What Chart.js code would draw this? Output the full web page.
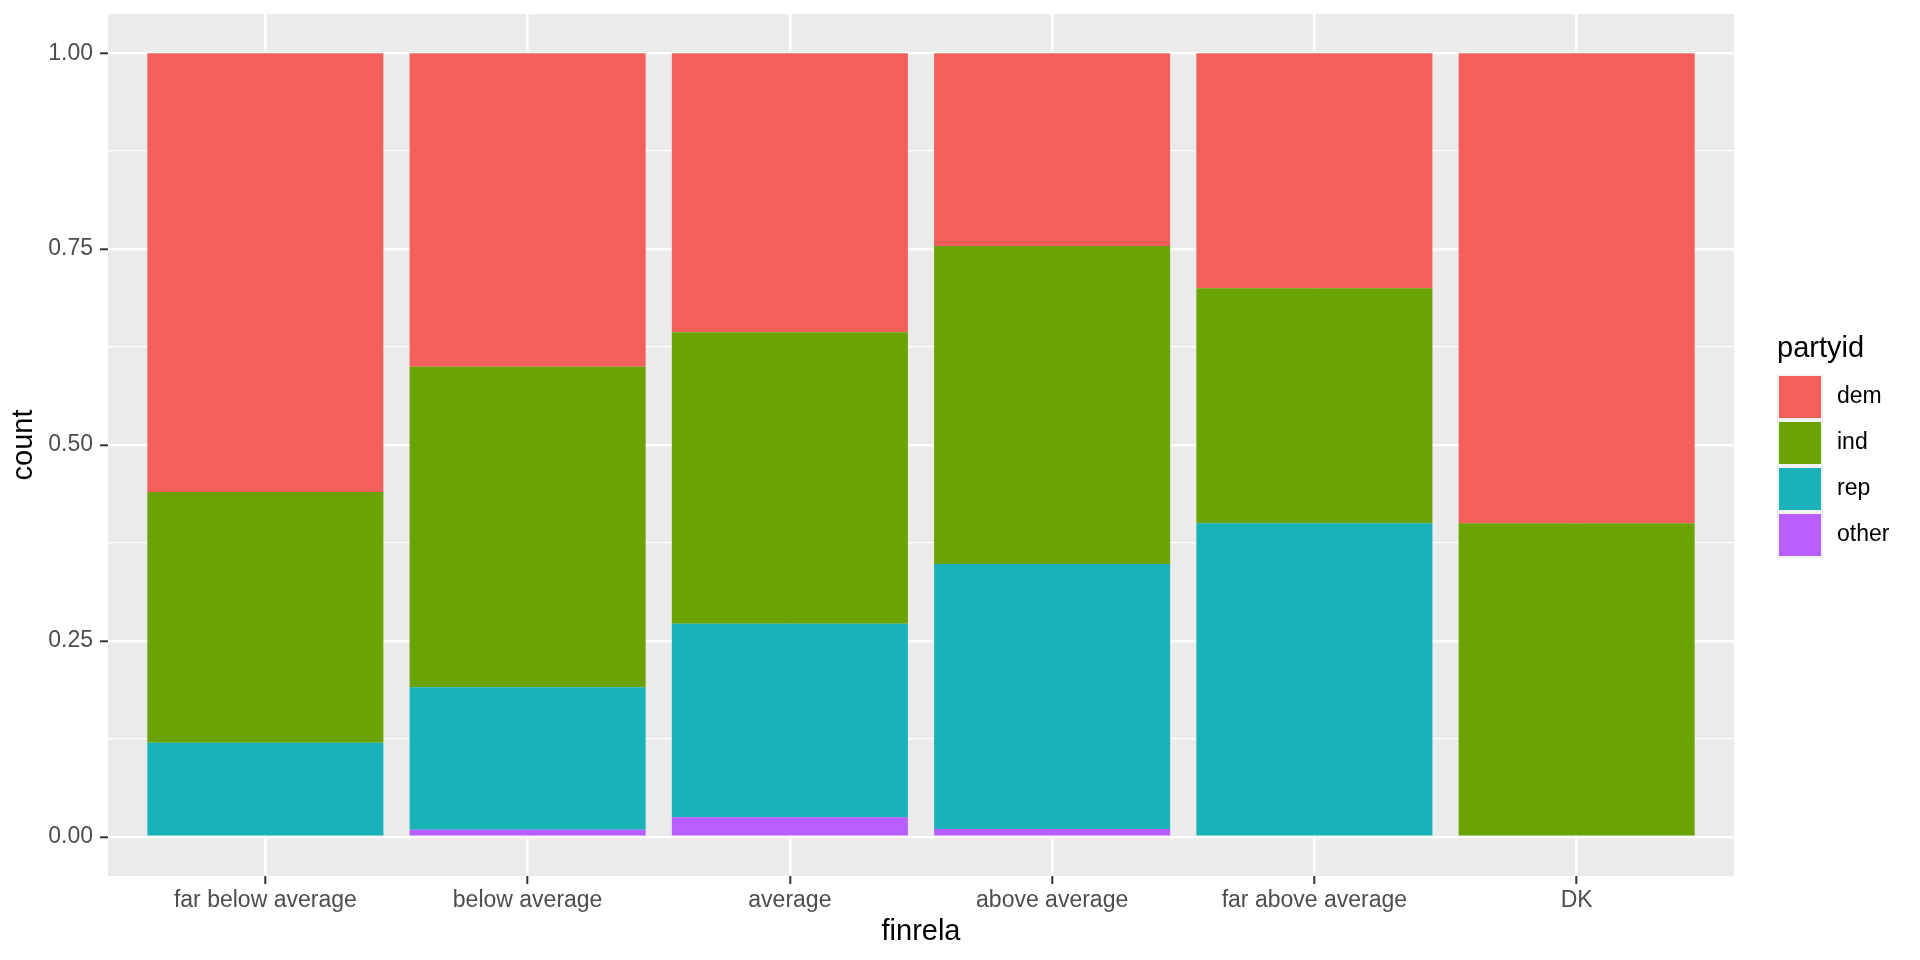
<!DOCTYPE html>
<html>
<head>
<meta charset="utf-8">
<title>finrela by partyid</title>
<script src="https://cdn.jsdelivr.net/npm/chart.js@4.4.1/dist/chart.umd.min.js"></script>
<style>
  html, body { margin: 0; padding: 0; background: #ffffff; }
  #wrap { width: 1920px; height: 960px; }
</style>
</head>
<body>
<div id="wrap"><canvas id="chart" width="1920" height="960"></canvas></div>
<script>
// categories on the x axis
const categories = ['far below average', 'below average', 'average', 'above average', 'far above average', 'DK'];
const catPositions = [1, 2, 3, 4, 5, 6];

// share of each party within a category
const dem   = [0.56, 0.40, 0.356, 0.246, 0.30, 0.60];
const ind   = [0.32, 0.409, 0.372, 0.406, 0.30, 0.40];
const rep   = [0.12, 0.182, 0.247, 0.338, 0.40, 0.00];
const other = [0.00, 0.009, 0.025, 0.010, 0.00, 0.00];

// y axis ticks
const yTickValues = [0, 0.25, 0.5, 0.75, 1];
const yTickLabels = ['0.00', '0.25', '0.50', '0.75', '1.00'];
const yMinorValues = [0.125, 0.375, 0.625, 0.875];

const FONT = "'Liberation Sans', Arial, Helvetica, sans-serif";
Chart.defaults.font.family = FONT;

function toPoints(values) {
    return values.map((v, i) => ({ x: catPositions[i], y: v }));
}

// stacking goes bottom-up, so "other" first and "dem" last
const datasets = [
    { label: 'other', data: toPoints(other), backgroundColor: '#B85EFF' },
    { label: 'rep',   data: toPoints(rep),   backgroundColor: '#18B2B8' },
    { label: 'ind',   data: toPoints(ind),   backgroundColor: '#6BA304' },
    { label: 'dem',   data: toPoints(dem),   backgroundColor: '#F35F5A' }
];

// grey panel behind the grid
const panelBackground = {
    id: 'panelBackground',
    beforeDraw(chart) {
        const { ctx, chartArea } = chart;
        ctx.save();
        ctx.fillStyle = '#EBEBEB';
        ctx.fillRect(chartArea.left, chartArea.top, chartArea.right - chartArea.left, chartArea.bottom - chartArea.top);
        ctx.restore();
    }
};

// ggplot style legend on the right
const sideLegend = {
    id: 'sideLegend',
    afterDraw(chart) {
        const ctx = chart.ctx;
        const x = 1777;
        const top = 374;
        const key = 46;
        ctx.save();
        ctx.fillStyle = '#000000';
        ctx.font = '29px ' + FONT;
        ctx.textAlign = 'left';
        ctx.textBaseline = 'alphabetic';
        ctx.fillText('partyid', x, 357);

        const items = chart.data.datasets.slice().reverse();
        items.forEach((ds, i) => {
            const y = top + i * key;
            ctx.fillStyle = '#F2F2F2';
            ctx.fillRect(x, y, key, key);
            ctx.fillStyle = ds.backgroundColor;
            ctx.fillRect(x + 2, y + 2, key - 4, key - 4);
            ctx.fillStyle = '#000000';
            ctx.font = '23px ' + FONT;
            ctx.textBaseline = 'middle';
            ctx.fillText(ds.label, 1837, y + key / 2);
        });
        ctx.restore();
    }
};

const isMajorY = v => yTickValues.some(t => Math.abs(t - v) < 1e-9);

new Chart(document.getElementById('chart'), {
    type: 'bar',
    data: { datasets: datasets },
    plugins: [panelBackground, sideLegend],
    options: {
        responsive: false,
        animation: false,
        devicePixelRatio: 1,
        layout: { padding: { left: 0, top: 14, right: 186, bottom: 0 } },
        datasets: {
            bar: { barPercentage: 0.9, categoryPercentage: 1.0, borderWidth: 0 }
        },
        plugins: {
            legend: { display: false },
            tooltip: { enabled: true }
        },
        scales: {
            x: {
                type: 'linear',
                stacked: true,
                offset: false,
                min: 0.4,
                max: 6.6,
                afterBuildTicks: scale => {
                    scale.ticks = catPositions.map(v => ({ value: v }));
                },
                afterFit: scale => {
                    scale.height = 84;
                    scale.paddingLeft = 0;
                    scale.paddingRight = 0;
                },
                border: { display: false },
                grid: {
                    offset: false,
                    color: '#FFFFFF',
                    lineWidth: 2.6,
                    tickColor: '#333333',
                    tickWidth: 2,
                    tickLength: 8
                },
                ticks: {
                    autoSkip: false,
                    maxRotation: 0,
                    padding: 3,
                    color: '#4D4D4D',
                    font: { size: 23 },
                    callback: value => categories[catPositions.indexOf(value)]
                },
                title: {
                    display: true,
                    text: 'finrela',
                    color: '#000000',
                    font: { size: 29 },
                    padding: { top: 0, bottom: 11 }
                }
            },
            y: {
                stacked: true,
                min: -0.05,
                max: 1.05,
                afterBuildTicks: scale => {
                    scale.ticks = yTickValues.concat(yMinorValues)
                        .sort((a, b) => a - b)
                        .map(v => ({ value: v }));
                },
                afterFit: scale => {
                    scale.width = 108;
                    scale.paddingTop = 0;
                    scale.paddingBottom = 0;
                },
                border: { display: false },
                grid: {
                    color: '#FFFFFF',
                    lineWidth: ctx => isMajorY(ctx.tick.value) ? 2.6 : 1.3,
                    tickColor: ctx => isMajorY(ctx.tick.value) ? '#333333' : 'rgba(0,0,0,0)',
                    tickWidth: 2,
                    tickLength: 8
                },
                ticks: {
                    padding: 7,
                    color: '#4D4D4D',
                    font: { size: 23 },
                    callback: value => {
                        const i = yTickValues.findIndex(t => Math.abs(t - value) < 1e-9);
                        return i >= 0 ? yTickLabels[i] : '';
                    }
                },
                title: {
                    display: true,
                    text: 'count',
                    color: '#000000',
                    font: { size: 29 },
                    padding: { top: 7, bottom: 0 }
                }
            }
        }
    }
});
</script>
</body>
</html>
